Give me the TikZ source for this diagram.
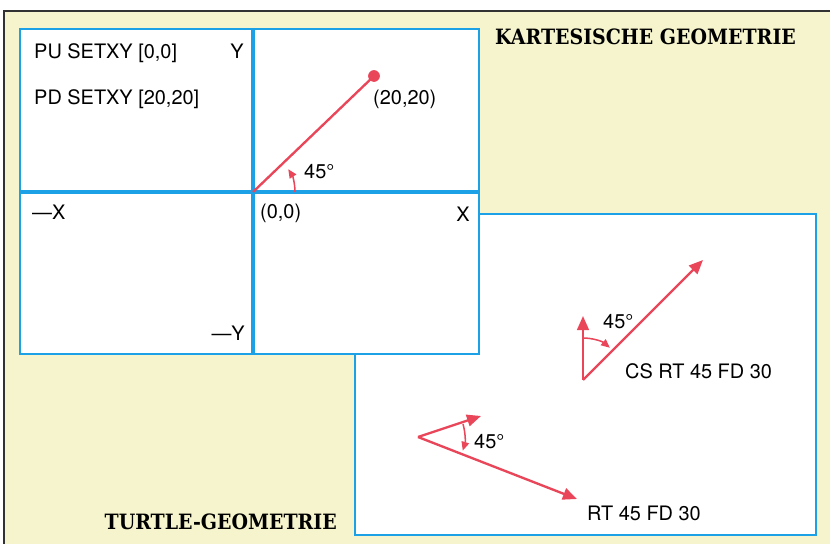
\documentclass[tikz,border=0pt]{standalone}
\usepackage{fontspec}
\setmainfont{TeX Gyre Heros}
\newfontfamily\titlefont{DejaVu Serif Condensed}
\usetikzlibrary{arrows.meta}
\definecolor{paper}{RGB}{246,244,204}
\definecolor{gridblue}{RGB}{28,160,230}
\definecolor{penred}{RGB}{233,70,90}
\definecolor{rim}{RGB}{50,50,50}
\begin{document}
\begin{tikzpicture}[x=0.03cm,y=-0.03cm,
  lbl/.style={font=\fontsize{17}{19}\selectfont,inner sep=0pt},
  heading/.style={font=\titlefont\bfseries\fontsize{18}{20}\selectfont,inner sep=0pt},
  pen/.style={draw=penred,line width=2pt},
  penarrow/.style={pen,-{Triangle[length=12pt,width=10pt]}},
  anglearrow/.style={draw=penred,line width=1.3pt,-{Triangle[length=7.5pt,width=6.5pt]}},
  frame/.style={draw=gridblue,line width=2.5pt,fill=white},
  axis/.style={draw=gridblue,line width=3.2pt}]
  \useasboundingbox (0,0) rectangle (830,544);
  % page
  \fill[white] (0,0) rectangle (830,544);
  \fill[paper] (4,11) rectangle (830,544);
  \draw[rim,line width=1pt] (4,544) -- (4,11) -- (830,11);

  % turtle box, behind the other one
  \draw[frame] (355,214) rectangle (816,535);
  % cartesian box
  \draw[frame] (20,29) rectangle (479,354);
  \coordinate (top) at (253,29);
  \coordinate (bottom) at (253,354);
  \coordinate (left) at (20,192);
  \coordinate (right) at (479,192);
  \draw[axis] (top) -- (bottom);
  \draw[axis] (left) -- (right);

  % SETXY
  \coordinate (origin) at (253,192);
  \coordinate (target) at (374,76);
  \coordinate (arcstart) at (295,192);
  \draw[pen] (origin) -- (target);
  \fill[penred] (target) circle[radius=5pt];
  \draw[anglearrow] (arcstart) arc[start angle=0,end angle=33,radius=35.7pt];

  \node[lbl,anchor=base west] (pu) at (34,59) {PU SETXY [0,0]};
  \node[lbl,anchor=base west] (pd) at (34,105) {PD SETXY [20,20]};
  \node[lbl,anchor=base east] (ypos) at (244,59) {Y};
  \node[lbl,anchor=base west] (ptlabel) at (373,105) {(20,20)};
  \node[lbl,anchor=base west] (angA) at (304,179) {45°};
  \node[lbl,anchor=base west] (orlabel) at (260,219) {(0,0)};
  \node[lbl,anchor=base west] (xneg) at (32,220) {—X};
  \node[lbl,anchor=base east] (xpos) at (470,222) {X};
  \node[lbl,anchor=base east] (yneg) at (245,341) {—Y};
  \node[heading,anchor=base west] (kart) at (495,45) {KARTESISCHE GEOMETRIE};

  % turtle: CS RT 45 FD 30
  \coordinate (home) at (583,380);
  \coordinate (headup) at (583,316);
  \coordinate (walk) at (703,260);
  \coordinate (arcup) at (583,338);
  \draw[penarrow] (home) -- (headup);
  \draw[penarrow] (home) -- (walk);
  \draw[anglearrow] (arcup) arc[start angle=90,end angle=50,radius=35.7pt];
  \node[lbl,anchor=base west] (angB) at (603,329) {45°};
  \node[lbl,anchor=base west] (cmdB) at (625,379) {CS RT 45 FD 30};

  % turtle: RT 45 FD 30
  \coordinate (turn) at (418,437);
  \coordinate (headold) at (481,416);
  \coordinate (walknew) at (577,499);
  \coordinate (arcold) at (463,424);
  \draw[penarrow] (turn) -- (headold);
  \draw[penarrow] (turn) -- (walknew);
  \draw[anglearrow] (arcold) arc[start angle=16,end angle=-17,radius=40pt];
  \node[lbl,anchor=base west] (angC) at (474,449) {45°};
  \node[lbl,anchor=base west] (cmdC) at (587,520) {RT 45 FD 30};

  \node[heading,anchor=base east] (turt) at (337,530) {TURTLE-GEOMETRIE};
\end{tikzpicture}
\end{document}
